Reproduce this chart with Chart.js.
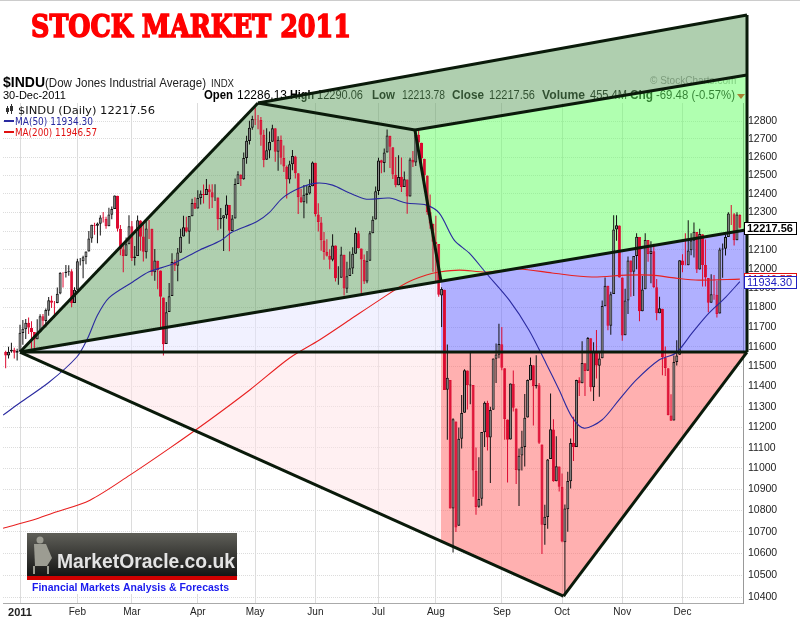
<!DOCTYPE html>
<html>
<head>
<meta charset="utf-8">
<script src="https://cdn.jsdelivr.net/npm/chart.js@4"></script>
<style>
html, body { margin: 0; padding: 0; background: #fff; }
canvas { display: block; }
</style>
</head>
<body>
<canvas id="chart" width="800" height="619"></canvas>
<script>
// daily candles [open, high, low, close], first one is index -5 (late Dec 2010)
const firstIndex = -5;
const dec2010 = [[11573,11580,11491,11555],[11556,11600,11540,11575],[11576,11620,11570,11585],[11584,11595,11540,11570],[11570,11590,11530,11578]];
const jan = [[11577,11711,11577,11671],[11670,11736,11610,11691],[11688,11741,11639,11722],[11722,11749,11665,11697],[11696,11730,11590,11675],
  [11674,11675,11592,11637],[11638,11740,11638,11672],[11673,11765,11673,11755],[11755,11767,11705,11732],[11731,11795,11699,11787],
  [11783,11854,11758,11837],[11836,11861,11797,11825],[11822,11834,11748,11823],[11823,11903,11822,11871],[11872,11983,11869,11980],
  [11977,11983,11903,11978],[11979,12021,11955,11985],[11986,12020,11965,11989],[11988,11999,11801,11823],[11823,11905,11823,11892]];
const feb = [[11892,12054,11892,12040],[12039,12057,12018,12041],[12040,12069,11952,12062],[12061,12092,12025,12092],[12092,12201,12092,12161],
  [12161,12234,12138,12234],[12233,12244,12180,12229],[12229,12246,12136,12240],[12239,12285,12176,12273],[12273,12302,12246,12268],
  [12266,12276,12213,12226],[12226,12325,12226,12288],[12287,12332,12263,12318],[12318,12391,12318,12391],[12389,12389,12198,12212],
  [12211,12233,12072,12105],[12104,12124,11983,12068],[12069,12166,12069,12130],[12130,12284,12130,12226]];
const mar = [[12226,12254,12042,12058],[12057,12121,12018,12066],[12068,12283,12068,12258],[12257,12258,12096,12170],[12171,12238,12039,12090],
  [12088,12253,12055,12214],[12213,12259,12158,12213],[12212,12212,11965,11984],[11983,12105,11938,12044],[12043,12043,11894,11993],
  [11992,11992,11700,11855],[11852,11852,11555,11613],[11614,11828,11614,11775],[11777,11927,11777,11858],[11859,12083,11859,12036],
  [12036,12049,11989,12018],[12017,12110,11936,12086],[12085,12212,12085,12170],[12171,12282,12171,12221],[12220,12276,12193,12198],
  [12197,12280,12133,12280],[12279,12373,12279,12350],[12350,12381,12319,12320]];
const apr = [[12321,12419,12321,12377],[12377,12418,12342,12400],[12399,12450,12348,12393],[12394,12480,12394,12426],[12425,12450,12319,12409],
  [12409,12452,12323,12380],[12380,12452,12361,12381],[12380,12380,12204,12263],[12263,12324,12213,12270],[12269,12285,12094,12285],
  [12285,12391,12266,12342],[12340,12340,12093,12202],[12201,12286,12201,12267],[12267,12483,12267,12453],[12453,12522,12453,12506],
  [12504,12506,12442,12479],[12479,12626,12476,12595],[12595,12718,12563,12690],[12689,12802,12669,12763],[12763,12829,12751,12811]];
const may = [[12811,12876,12778,12808],[12806,12834,12754,12807],[12806,12822,12662,12724],[12723,12752,12544,12584],[12585,12759,12585,12638],
  [12637,12741,12594,12684],[12685,12779,12685,12760],[12759,12759,12574,12630],[12629,12715,12526,12696],[12695,12720,12560,12596],
  [12595,12664,12518,12548],[12547,12554,12375,12479],[12478,12580,12456,12561],[12561,12639,12528,12606],[12604,12607,12483,12512],
  [12511,12511,12291,12381],[12381,12427,12350,12356],[12355,12448,12269,12395],[12394,12443,12347,12403],[12402,12479,12396,12442],
  [12441,12576,12441,12570]];
const jun = [[12569,12569,12278,12290],[12289,12349,12198,12248],[12246,12275,12096,12151],[12150,12195,12049,12089],[12090,12157,12066,12070],
  [12070,12104,11998,12049],[12048,12183,12040,12124],[12123,12123,11935,11952],[11952,12014,11918,11953],[11954,12117,11954,12076],
  [12075,12075,11862,11898],[11897,12038,11875,11962],[11963,12092,11963,12004],[12003,12114,11974,12080],[12080,12219,12080,12190],
  [12189,12201,12107,12110],[12108,12108,11874,12050],[12048,12076,11922,11934],[11935,12095,11926,12043],[12043,12201,12043,12188],
  [12188,12279,12188,12261],[12262,12440,12262,12414]];
const jul = [[12415,12596,12393,12582],[12583,12585,12512,12569],[12568,12648,12517,12626],[12625,12753,12625,12719],[12718,12718,12540,12657],
  [12655,12655,12480,12505],[12504,12600,12435,12447],[12447,12610,12447,12491],[12492,12598,12410,12437],[12437,12521,12437,12479],
  [12478,12478,12292,12385],[12386,12597,12386,12587],[12586,12634,12546,12571],[12571,12751,12551,12724],[12723,12750,12635,12681],
  [12679,12679,12545,12592],[12591,12591,12480,12501],[12500,12500,12287,12302],[12301,12396,12213,12240],[12239,12239,11986,12143]];
const aug = [[12144,12282,11936,12132],[12132,12132,11855,11866],[11862,11905,11700,11896],[11892,11892,11383,11383],[11384,11611,11139,11444],
  [11433,11433,10809,10810],[10810,11244,10604,11239],[11228,11228,10699,10720],[10729,11198,10729,11143],[11143,11358,11096,11269],
  [11270,11487,11270,11482],[11480,11480,11287,11406],[11405,11571,11312,11410],[11408,11408,10865,10990],[10989,11101,10780,10817],
  [10818,11054,10813,10854],[10855,11176,10823,11176],[11175,11326,11103,11320],[11320,11330,11086,11150],[11149,11300,10930,11284],
  [11285,11541,11285,11540],[11539,11616,11418,11560],[11559,11717,11542,11614]];
const sep = [[11613,11700,11482,11494],[11492,11492,11139,11240],[11237,11237,10933,11139],[11140,11415,11140,11415],[11414,11480,11277,11295],
  [11292,11292,10926,10992],[10990,11096,10821,11061],[11062,11182,10990,11105],[11104,11363,11009,11246],[11247,11435,11247,11433],
  [11432,11545,11432,11509],[11507,11507,11208,11401],[11402,11557,11390,11408],[11407,11418,11118,11124],[11116,11116,10597,10733],
  [10732,10827,10640,10771],[10770,11045,10714,11043],[11045,11366,11045,11190],[11189,11239,10936,10939],[10939,11155,10939,11010],
  [11009,11009,10890,10913]];
const oct = [[10912,10976,10652,10655],[10651,10828,10404,10809],[10806,10984,10701,10940],[10939,11145,10904,11123],[11123,11251,11036,11103],
  [11104,11434,11104,11433],[11431,11447,11353,11416],[11417,11628,11417,11518],[11516,11516,11353,11478],[11479,11649,11479,11644],
  [11643,11643,11376,11397],[11396,11623,11328,11577],[11576,11685,11440,11505],[11504,11574,11350,11541],[11542,11836,11542,11808],
  [11807,11956,11807,11913],[11912,11912,11683,11706],[11706,11882,11661,11869],[11870,12285,11870,12209],[12208,12284,12148,12231],
  [12230,12230,11955,11955]];
const nov = [[11955,11955,11630,11657],[11658,11897,11658,11836],[11836,12065,11767,12044],[12044,12044,11855,11983],[11985,12067,11859,12068],
  [12068,12188,11999,12170],[12168,12168,11730,11781],[11781,11963,11781,11893],[11894,12188,11894,12153],[12152,12152,12038,12079],
  [12078,12146,11925,12096],[12093,12133,11901,11906],[11905,11947,11734,11770],[11771,11856,11770,11796],[11794,11794,11456,11547],
  [11546,11601,11453,11493],[11491,11491,11258,11258],[11257,11362,11231,11231],[11232,11556,11232,11523],[11523,11633,11505,11556],
  [11559,12046,11559,12046]];
const dec = [[12045,12077,11983,12020],[12021,12188,12019,12019],[12020,12258,12020,12097],[12098,12189,12072,12150],[12149,12246,12060,12196],
  [12195,12195,11979,11997],[11997,12213,11997,12184],[12183,12183,11909,12021],[12021,12155,11909,11955],[11953,11953,11775,11824],
  [11825,11973,11825,11869],[11868,11969,11840,11866],[11866,11938,11749,11766],[11769,12112,11769,12103],[12102,12134,11954,12107],
  [12106,12181,12071,12169],[12169,12301,12169,12294],[12291,12340,12232,12291],[12290,12296,12124,12151],[12151,12301,12151,12288],
  [12286,12290,12214,12218]];
const candles = [].concat(dec2010, jan, feb, mar, apr, may, jun, jul, aug, sep, oct, nov, dec);

// moving averages: [trading day index, value]
const ma50 = [[-5.9,11259],[0,11320],[10,11420],[19.8,11548],[23.5,11640],[27,11760],[31,11850],[39.3,11932],[45,11985],[53,12025],
  [62.7,12100],[70,12150],[74,12195],[82.5,12250],[87,12300],[91.5,12377],[97.5,12431],[103.4,12458],[109,12447],[114.9,12404],
  [120.8,12371],[128.8,12377],[134.7,12350],[141.7,12339],[146.2,12296],[151.4,12152],[156.6,12084],[162.5,11979],[170.6,11838],
  [177.5,11684],[183.4,11517],[188,11383],[192.5,11249],[196.7,11195],[202.9,11235],[208.8,11333],[214.8,11432],[222.8,11533],
  [228.7,11568],[234.3,11669],[240.2,11771],[246.1,11854],[251,11934]];
const ma200 = [[-5.9,10717],[4.5,10755],[11.5,10788],[24.4,10849],[38.3,10968],[52.2,11098],[66.1,11235],[80.1,11383],[94,11543],
  [104.4,11634],[114.9,11736],[125.3,11838],[134.7,11927],[141.7,11968],[146.2,11984],[153.2,11994],[162.5,11984],[174,12000],
  [185.5,11979],[199.4,11958],[211.3,11968],[220.3,11968],[228.7,11952],[236.7,11942],[251,11947]];

const yTicks = [10400,10500,10600,10700,10800,10900,11000,11100,11200,11300,11400,11500,11600,
  11700,11800,11900,12000,12100,12200,12300,12400,12500,12600,12700,12800];
const monthTicks = [0, 20, 39, 62, 82, 103, 125, 145, 168, 189, 210, 231];
const monthLabels = ['2011','Feb','Mar','Apr','May','Jun','Jul','Aug','Sep','Oct','Nov','Dec'];

// hand drawn trend lines, corners as [trading day index, price]
const anchors = {
  start: [0, 11573], mayTop: [83, 12901], julTop: [137.7, 12750], augBreak: [146.8, 11935],
  rightTop: [253.5, 13406], rightMid: [253.5, 13059], rightRise: [253.5, 12207], rightFlat: [253.5, 11573],
  octLow: [189.5, 10404], augFlat: [146.8, 11573], augLow: [146.8, 10657]
};

const RED = '#dc0a30', BLACK = '#111';

function candleStyle(i) {
  const [o, h, l, c] = candles[i];
  const prev = i > 0 ? candles[i - 1][3] : o;
  const down = c < prev;
  const line = down ? RED : BLACK;
  const hollow = down ? '#fff' : '#8c8c8c';
  return { line, fill: c > o ? hollow : line };
}

function pt(chart, key) {
  const p = anchors[key];
  return [chart.scales.x.getPixelForValue(p[0]), chart.scales.y.getPixelForValue(p[1])];
}

const regions = [
  { pts: ['start','mayTop','julTop','augBreak'], color: 'rgba(96,160,96,0.5)' },
  { pts: ['mayTop','rightTop','rightMid','julTop'], color: 'rgba(96,160,96,0.5)' },
  { pts: ['julTop','rightMid','rightRise','augBreak'], color: 'rgba(97,255,97,0.5)' },
  { pts: ['start','augBreak','augFlat'], color: 'rgba(228,228,255,0.5)' },
  { pts: ['augBreak','rightRise','rightFlat','augFlat'], color: 'rgba(97,97,255,0.5)' },
  { pts: ['start','augFlat','augLow'], color: 'rgba(255,226,230,0.5)' },
  { pts: ['augFlat','rightFlat','octLow','augLow'], color: 'rgba(255,97,97,0.5)' }
];
const trendLines = [['start','mayTop'],['mayTop','rightTop'],['mayTop','julTop'],['julTop','rightMid'],['julTop','augBreak'],
  ['start','rightRise'],['start','rightFlat'],['start','octLow'],['octLow','rightFlat'],['rightTop','rightFlat']];

function txt(c, s, x, y, font, color) {
  c.font = font; c.fillStyle = color; c.fillText(s, x, y);
}

// draw text squeezed or stretched to a given width
function fitText(c, s, x, y, width, font, color, stroke) {
  c.save();
  c.font = font;
  const w = c.measureText(s).width;
  c.translate(x, y);
  c.scale(width / w, 1);
  c.fillStyle = color;
  c.fillText(s, 0, 0);
  if (stroke) {
    c.strokeStyle = color;
    c.lineWidth = stroke;
    c.lineJoin = 'miter';
    c.strokeText(s, 0, 0);
  }
  c.restore();
}

const headerPlugin = {
  id: 'header',
  beforeDraw(chart) {
    const c = chart.ctx;
    c.save();
    c.fillStyle = '#fff';
    c.fillRect(0, 0, chart.width, chart.height);
    c.fillStyle = '#ccc';
    c.fillRect(0, 0, chart.width, 1);
    c.textBaseline = 'alphabetic';

    fitText(c, 'STOCK MARKET 2011', 31, 37, 320, 'bold 32px "DejaVu Serif"', '#ff0000', 1.6);

    txt(c, '$INDU', 3, 87, 'bold 14px "Liberation Sans"', '#000');
    fitText(c, '(Dow Jones Industrial Average)', 45, 87, 161, '12px "Liberation Sans"', '#222');
    fitText(c, 'INDX', 211, 87, 23, '11px "Liberation Sans"', '#222');
    txt(c, '30-Dec-2011', 3, 99, '11px "Liberation Sans"', '#000');
    txt(c, '\u00A9 StockCharts.com', 650, 84, '10px "Liberation Sans"', '#999');

    const quote = [['Open',204,29,1],['12286.13',237,50,0],['High',290,24,1],['12290.06',317,46,0],['Low',372,23,1],['12213.78',402,43,0],
      ['Close',452,32,1],['12217.56',489,46,0],['Volume',542,43,1],['455.4M',590,37,0],['Chg',630,23,1],['-69.48 (-0.57%)',656,79,0]];
    quote.forEach(([s, x, w, b]) => fitText(c, s, x, 99, w, (b ? 'bold 12px' : '12px') + ' "Liberation Sans"', '#000'));
    c.fillStyle = '#e00';
    c.beginPath(); c.moveTo(737, 94); c.lineTo(745, 94); c.lineTo(741, 99); c.closePath(); c.fill();
    c.restore();
  },
  beforeDatasetsDraw(chart) {
    const c = chart.ctx;
    c.save();
    regions.forEach(r => {
      c.beginPath();
      r.pts.forEach((k, i) => { const [x, y] = pt(chart, k); i ? c.lineTo(x, y) : c.moveTo(x, y); });
      c.closePath();
      c.fillStyle = r.color;
      c.fill();
    });
    c.restore();
  },
  afterDatasetsDraw(chart) {
    const c = chart.ctx;
    c.save();
    c.strokeStyle = '#0a1a0a';
    c.lineWidth = 3;
    c.lineJoin = 'round';
    trendLines.forEach(([a, b]) => {
      const p = pt(chart, a), q = pt(chart, b);
      c.beginPath(); c.moveTo(p[0], p[1]); c.lineTo(q[0], q[1]); c.stroke();
    });
    c.restore();
  },
  afterDraw(chart) {
    const c = chart.ctx, y = chart.scales.y;
    c.save();
    c.textBaseline = 'alphabetic';

    // legend in the top left corner
    c.fillStyle = '#333';
    c.fillRect(7, 106, 1, 8); c.fillRect(11, 104, 1, 10);
    c.fillRect(6, 108, 3, 4); c.fillRect(10, 106, 3, 5);
    fitText(c, '$INDU (Daily) 12217.56', 18, 114, 137, '11px "DejaVu Sans"', '#111');
    c.fillStyle = '#2a2aa0'; c.fillRect(4, 120, 10, 2);
    fitText(c, 'MA(50) 11934.30', 15, 125, 78, '10px "DejaVu Sans"', '#2a2aa0');
    c.fillStyle = '#e01010'; c.fillRect(4, 131, 10, 2);
    fitText(c, 'MA(200) 11946.57', 15, 136, 82, '10px "DejaVu Sans"', '#e01010');

    // last value boxes on the price axis
    c.textBaseline = 'middle';
    const box = (val, label, color, bold) => {
      const yy = Math.round(y.getPixelForValue(val));
      c.fillStyle = '#fff';
      c.fillRect(744, yy - 6, 53, 12);
      c.strokeStyle = color; c.lineWidth = 1;
      c.strokeRect(744.5, yy - 5.5, 52, 12);
      txt(c, label, 747, yy + 0.5, (bold ? 'bold ' : '') + '11px "Liberation Sans"', color);
    };
    box(11946.57, '11946.57', '#e01010', false);
    box(11934.30, '11934.30', '#2020c0', false);
    box(12217.56, '12217.56', '#000', true);

    // MarketOracle badge
    c.textBaseline = 'alphabetic';
    const g = c.createLinearGradient(0, 533, 0, 576);
    g.addColorStop(0, '#5f5f58'); g.addColorStop(1, '#151515');
    c.fillStyle = g; c.fillRect(27, 533, 210, 43);
    c.fillStyle = '#d00000'; c.fillRect(27, 576, 210, 4);
    c.fillStyle = '#fff'; c.fillRect(27, 580, 210, 14);
    c.fillStyle = '#9c9c92';
    c.beginPath(); c.arc(40, 540, 3.5, 0, Math.PI * 2); c.fill();
    c.beginPath(); c.moveTo(34, 544); c.lineTo(46, 544); c.lineTo(52, 558); c.lineTo(47, 566); c.lineTo(35, 566); c.closePath(); c.fill();
    c.fillRect(33, 566, 2, 8); c.fillRect(47, 566, 2, 8);
    fitText(c, 'MarketOracle.co.uk', 57, 568, 178, 'bold 20px "Liberation Sans"', '#e4e4e4');
    fitText(c, 'Financial Markets Analysis & Forecasts', 32, 591, 197, 'bold 11px "Liberation Sans"', '#1a1aee');
    c.restore();
  }
};

const wickData = candles.map((r, i) => ({ x: i + firstIndex, y: [r[2], r[1]] }));
const bodyData = candles.map((r, i) => ({ x: i + firstIndex, y: [r[0], r[3]] }));

new Chart(document.getElementById('chart'), {
  type: 'bar',
  data: {
    datasets: [
      { type: 'line', data: ma50.map(p => ({ x: p[0], y: p[1] })), borderColor: '#2a2aa0', borderWidth: 1.1,
        pointRadius: 0, tension: 0.3, order: 0 },
      { type: 'line', data: ma200.map(p => ({ x: p[0], y: p[1] })), borderColor: '#e82020', borderWidth: 1.1,
        pointRadius: 0, tension: 0.3, order: 0 },
      { data: bodyData, barThickness: 3, grouped: false, borderSkipped: false, inflateAmount: 0, borderWidth: 1,
        backgroundColor: ctx => candleStyle(ctx.dataIndex).fill, borderColor: ctx => candleStyle(ctx.dataIndex).line, order: 1 },
      { data: wickData, barThickness: 1, grouped: false, inflateAmount: 0, borderWidth: 0,
        backgroundColor: ctx => candleStyle(ctx.dataIndex).line, order: 2 }
    ]
  },
  options: {
    responsive: false,
    animation: false,
    devicePixelRatio: 1,
    layout: { padding: { left: 3, top: 103, right: 0, bottom: 0 } },
    plugins: { legend: { display: false }, tooltip: { enabled: false } },
    scales: {
      x: {
        type: 'linear', min: -5.93, max: 252.1, offset: false,
        afterBuildTicks: s => { s.ticks = monthTicks.map(v => ({ value: v })); },
        afterFit: s => { s.height = 16; },
        grid: { color: '#dcdcdc', drawTicks: false, offset: false },
        border: { color: '#aaa' },
        ticks: {
          autoSkip: false, maxRotation: 0, padding: 3, color: '#222',
          callback: v => monthLabels[monthTicks.indexOf(v)],
          font: ctx => (ctx.tick && ctx.tick.value === 0)
            ? { family: 'Liberation Sans', size: 11, weight: 'bold' }
            : { family: 'Liberation Sans', size: 10 }
        }
      },
      y: {
        type: 'logarithmic', position: 'right', min: 10373, max: 12901,
        afterBuildTicks: s => { s.ticks = yTicks.map(v => ({ value: v })); },
        afterFit: s => { s.width = 57; },
        grid: { color: '#dcdcdc', drawTicks: false },
        border: { color: '#999', dash: [1, 1] },
        ticks: { autoSkip: false, padding: 5, color: '#222', callback: v => String(v),
          font: { family: 'Liberation Sans', size: 10.5 } }
      }
    }
  },
  plugins: [headerPlugin]
});
</script>
</body>
</html>
